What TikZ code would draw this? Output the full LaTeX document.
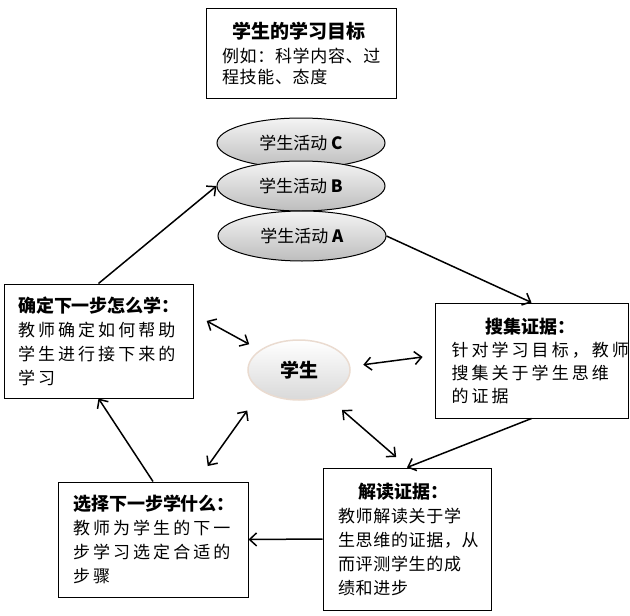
\documentclass[tikz,border=0pt]{standalone}
\usepackage{fontspec}
\setmainfont{Noto Sans CJK SC}
\newfontfamily\headfam{Noto Sans CJK SC}
\newfontfamily\bodyfam[LetterSpace=18]{Noto Sans CJK SC}
\newfontfamily\tightfam[LetterSpace=4]{Noto Sans CJK SC}
\usetikzlibrary{arrows.meta,shapes.geometric}
\definecolor{ovalTop}{HTML}{F4F4F4}
\definecolor{ovalBot}{HTML}{BDBDBD}
\definecolor{rim}{HTML}{EADBD0}
\newcommand\ttl[1]{{\headfam\bfseries\fontsize{18}{24}\selectfont #1}}

\begin{document}
\begin{tikzpicture}[x=1pt, y=-1pt, >={Straight Barb[length=7pt,width=13pt]},
  box/.style={draw, line width=1pt, inner sep=0pt, align=left},
  oval/.style={ellipse, draw, line width=1pt, inner sep=0pt, minimum width=168, minimum height=50,
    top color=ovalTop, bottom color=ovalBot, font=\headfam\fontsize{17}{20}\selectfont},
  link/.style={line width=1.5pt}]
  \useasboundingbox (0,0) rectangle (630,616);
  % goal
  \node[box, minimum width=190, minimum height=90, text width=158, font=\tightfam\fontsize{17}{21}\selectfont] (goal) at (301,53)
    {\hspace*{10pt}\ttl{\fontsize{19}{24}\selectfont 学生的学习目标}\\[3pt]例如：科学内容、过\\程技能、态度};
  % activities
  \node[oval] (actC) at (301,143) {学生活动 \textbf{C}};
  \node[oval] (actB) at (301,186) {学生活动 \textbf{B}};
  \node[oval] (actA) at (302,236) {学生活动 \textbf{A}};
  % student
  \node[ellipse, draw=rim, line width=1.5pt, minimum width=102, minimum height=60, inner sep=0pt,
    top color=white, bottom color=gray!30, font=\headfam\bfseries\fontsize{19}{20}\selectfont] (stu) at (299,370) {学生};
  % four steps
  \node[box, minimum width=189, minimum height=114, text width=161, font=\bodyfam\fontsize{17}{24}\selectfont] (next) at (98.5,341)
    {\ttl{确定下一步怎么学：}\\教师确定如何帮助\\学生进行接下来的\\学习};
  \node[box, minimum width=193, minimum height=115, text width=160, font=\bodyfam\fontsize{17}{23}\selectfont] (gather) at (531.5,360.5)
    {\hspace*{34pt}\ttl{搜集证据：}\\针对学习目标，教师\\搜集关于学生思维\\的证据};
  \node[box, minimum width=168, minimum height=142, text width=138, font=\tightfam\fontsize{17}{24}\selectfont] (interp) at (407,539)
    {\hspace*{20pt}\ttl{解读证据：}\\教师解读关于学\\生思维的证据，从\\而评测学生的成\\绩和进步};
  \node[box, minimum width=190, minimum height=115, text width=160, font=\bodyfam\fontsize{17}{24}\selectfont] (choose) at (153,539.5)
    {\ttl{选择下一步学什么：}\\教师为学生的下一\\步学习选定合适的\\步骤};
  % cycle
  \draw[link,->] (next.north) -- (actB.west);
  \draw[link,->] (actA.east) -- (gather.north);
  \draw[link,->] (gather.south) -- (interp.north);
  \draw[link,->] (interp.west) -- (choose.east);
  \draw[link,->] (choose.north) -- (next.south);
  % to and from the student
  \draw[link,<->, shorten <=15pt, shorten >=12pt] (next.16) -- (stu.153);
  \draw[link,<->, shorten <=12pt, shorten >=13pt] (gather.177) -- (stu.4);
  \draw[link,<->, shorten <=19pt, shorten >=24pt] (choose.53) -- (stu.209);
  \draw[link,<->, shorten <=16pt, shorten >=21pt] (interp.89) -- (stu.316);
\end{tikzpicture}
\end{document}
